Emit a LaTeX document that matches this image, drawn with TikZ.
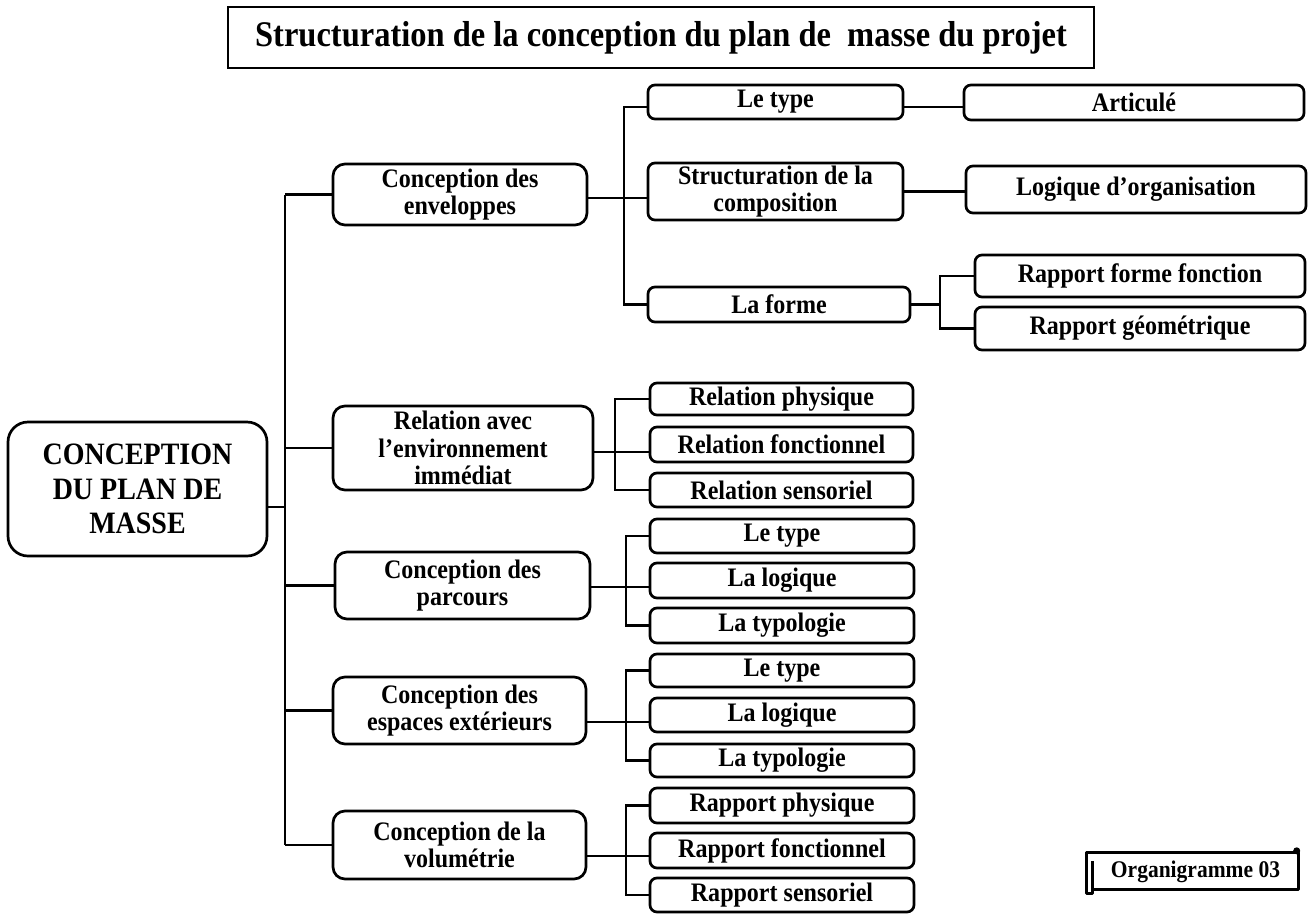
\documentclass[tikz,border=0pt]{standalone}
\usepackage{fontspec}
\setmainfont{Liberation Serif}[FakeStretch=0.9]
\usepackage{tikz}
\usetikzlibrary{positioning}

\begin{document}
\begin{tikzpicture}[
    % Unites en pixels
    x=1pt, y=-1pt,
    % Definition des styles pour chaque niveau
    base_box/.style={
        draw,
        rectangle,
        line width=2.7pt,
        align=center,
        inner sep=0pt,
        font=\bfseries\fontsize{26.7}{27.5}\selectfont
    },
    title_box/.style={
        draw,
        rectangle,
        line width=2.2pt,
        minimum width=866pt,
        minimum height=61pt,
        font=\bfseries\fontsize{36.1}{38}\selectfont
    },
    root_box/.style={
        base_box,
        rounded corners=20pt,
        minimum width=259pt,
        minimum height=134pt,
        font=\bfseries\fontsize{31.1}{34.5}\selectfont
    },
    main_box/.style={base_box, rounded corners=12pt, minimum width=254pt},
    sub_box/.style={base_box, rounded corners=7pt, minimum width=264pt, minimum height=34pt},
    leaf_box/.style={base_box, rounded corners=7pt, minimum width=340pt, minimum height=42pt},
    % Style des traits de liaison
    link/.style={
        line width=2.5pt,
        draw=black
    }
]
\useasboundingbox (0,0) rectangle (1314,913);

% =====================================================================
% TITRE ET RACINE
% =====================================================================
\node (titre) [title_box] at (661,37.5) {Structuration de la conception du plan de~~masse du projet};
\node (racine) [root_box] at (137.5,489) {CONCEPTION\\DU PLAN DE\\MASSE};

% =====================================================================
% PREMIER NIVEAU
% =====================================================================
\node (env) [main_box, minimum height=61pt] at (460,194.5) {Conception des\\enveloppes};
\node (rel) [main_box, minimum width=260pt, minimum height=84pt] at (463,448) {Relation avec\\l’environnement\\immédiat};
\node (par) [main_box, minimum width=255pt, minimum height=67pt] at (462.5,585.5) {Conception des\\parcours};
\node (esp) [main_box, minimum width=253pt, minimum height=67pt] at (459.5,710.5) {Conception des\\espaces extérieurs};
\node (vol) [main_box, minimum width=253pt, minimum height=68pt] at (459.5,845) {Conception de la\\volumétrie};

% =====================================================================
% DEUXIEME ET TROISIEME NIVEAU
% =====================================================================
\node (env_type) [sub_box, minimum width=255pt] at (775.5,102) {Le type};
\node (env_struct) [sub_box, minimum width=255pt, minimum height=57pt] at (775.5,191.5) {Structuration de la\\composition};
\node (env_forme) [sub_box, minimum width=262pt, minimum height=35pt] at (779,304.5) {La forme};

\node (art) [leaf_box, minimum height=35pt] at (1134,102.5) {Articulé};
\node (logique) [leaf_box, minimum height=47pt] at (1136,189.5) {Logique d’organisation};
\node (rff) [leaf_box, minimum width=330pt] at (1140,276) {Rapport forme fonction};
\node (rgeo) [leaf_box, minimum width=330pt, minimum height=43pt] at (1140,328.5) {Rapport géométrique};

\node (rel_phys) [sub_box, minimum width=263pt, minimum height=32pt] at (781.5,399) {Relation physique};
\node (rel_fonc) [sub_box, minimum width=263pt, minimum height=35pt] at (781.5,444.5) {Relation fonctionnel};
\node (rel_sens) [sub_box, minimum width=263pt] at (781.5,490) {Relation sensoriel};

\node (par_type) [sub_box] at (782,536) {Le type};
\node (par_log) [sub_box, minimum height=35pt] at (782,580.5) {La logique};
\node (par_typo) [sub_box, minimum height=35pt] at (782,625.5) {La typologie};

\node (esp_type) [sub_box, minimum height=33pt] at (782,670.5) {Le type};
\node (esp_log) [sub_box] at (782,715) {La logique};
\node (esp_typo) [sub_box, minimum height=33pt] at (782,760.5) {La typologie};

\node (vol_phys) [sub_box, minimum height=35pt] at (782,805.5) {Rapport physique};
\node (vol_fonc) [sub_box, minimum height=35pt] at (782,850.5) {Rapport fonctionnel};
\node (vol_sens) [sub_box] at (782,895) {Rapport sensoriel};

% cartouche en forme de parchemin
\node (org) [font=\bfseries\fontsize{23.9}{25}\selectfont, minimum width=206pt, minimum height=34pt, inner sep=0pt] at (1195.5,872) {Organigramme 03};
\draw [line width=2.7pt, line join=round] ([xshift=-6pt,yshift=-21pt]org.north west) |- ([yshift=2pt]org.north east) -- (org.south east) -- (org.south west) -- ([yshift=-6pt]org.north west);
\draw [line width=2.7pt, line join=round] ([xshift=-6pt,yshift=-21pt]org.north west) -- ([xshift=-6pt,yshift=-4pt]org.south west) -- ([yshift=-4pt]org.south west) -- (org.south west);
\fill ([xshift=-2pt,yshift=4pt]org.north east) circle (3.5pt);

% =====================================================================
% LIAISONS
% =====================================================================
\coordinate (tronc) at (285,0);
\coordinate (bus_env) at (624,0);
\coordinate (bus_forme) at (940,0);
\coordinate (bus_rel) at (615,0);
\coordinate (bus_par) at (626,0);
\coordinate (bus_esp) at (626,0);
\coordinate (bus_vol) at (626,0);

\coordinate (racine_out) at ([yshift=-18pt]racine.east);
\coordinate (env_out) at ([yshift=-3.5pt]env.east);
\coordinate (rel_out) at ([yshift=-4pt]rel.east);
\coordinate (par_out) at ([yshift=-1.5pt]par.east);
\coordinate (esp_out) at ([yshift=-11.5pt]esp.east);
\coordinate (vol_out) at ([yshift=-11pt]vol.east);
\coordinate (type_out) at ([yshift=-5pt]env_type.east);

% tronc principal
\draw [link] (racine_out) -- (racine_out -| tronc);
\draw [link] (env.west -| tronc) -- (vol.west -| tronc);
\foreach \n in {env, rel, par, esp, vol}
    \draw [link] (\n.west -| tronc) -- (\n.west);

% enveloppes
\draw [link] (env_out) -- (env_out -| env_struct.west);
\draw [link] (env_out -| bus_env) |- ([yshift=-5pt]env_type.west);
\draw [link] (env_out -| bus_env) |- (env_forme.west);
\draw [link] (type_out) -- (type_out -| art.west);
\draw [link] (env_struct.east) -- (env_struct.east -| logique.west);
\draw [link] (env_forme.east) -- (env_forme.east -| bus_forme) |- (rff.west);
\draw [link] (env_forme.east -| bus_forme) |- (rgeo.west);

% relation
\draw [link] (rel_out) -- (rel_out -| rel_fonc.west);
\draw [link] (rel_out -| bus_rel) |- (rel_phys.west);
\draw [link] (rel_out -| bus_rel) |- (rel_sens.west);

% parcours
\draw [link] (par_out) -- (par_out -| par_log.west);
\draw [link] (par_out -| bus_par) |- (par_type.west);
\draw [link] (par_out -| bus_par) |- (par_typo.west);

% espaces exterieurs
\draw [link] (esp_out) -- (esp_out -| esp_log.west);
\draw [link] (esp_out -| bus_esp) |- (esp_type.west);
\draw [link] (esp_out -| bus_esp) |- (esp_typo.west);

% volumetrie
\draw [link] (vol_out) -- (vol_out -| vol_fonc.west);
\draw [link] (vol_out -| bus_vol) |- (vol_phys.west);
\draw [link] (vol_out -| bus_vol) |- (vol_sens.west);

\end{tikzpicture}
\end{document}
